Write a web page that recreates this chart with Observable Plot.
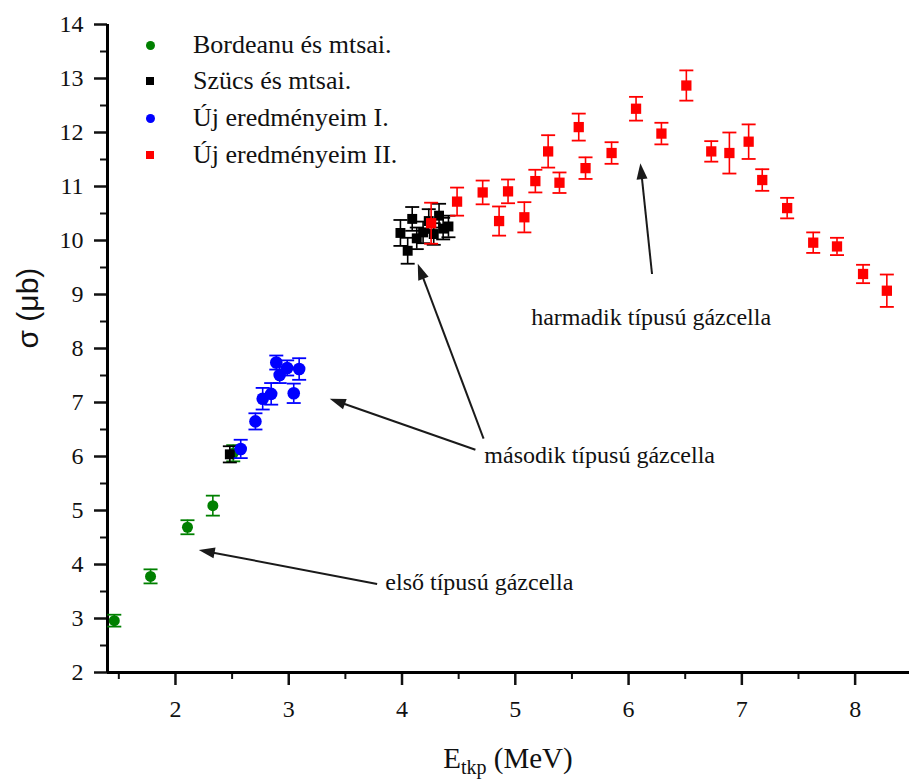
<!DOCTYPE html>
<html>
<head>
<meta charset="utf-8">
<script src="https://cdn.jsdelivr.net/npm/d3@7"></script>
<script src="https://cdn.jsdelivr.net/npm/@observablehq/plot@0.6"></script>
<style>
  body { margin: 0; background: #fff; }
  #wrap { position: relative; width: 909px; height: 782px; overflow: hidden; }
  .legend { position: absolute; left: 0; top: 0; font-family: "Liberation Serif", "Times New Roman", "DejaVu Serif", serif; font-size: 26px; color: #111; }
  .legend .row { position: absolute; left: 0; white-space: nowrap; height: 30px; line-height: 30px; }
  .legend .mk { position: absolute; }
  .legend .lb { position: absolute; left: 193px; top: 0; }
  .xtitle { position: absolute; left: 107px; width: 802px; top: 742px; text-align: center;
            font-family: "Liberation Serif", "Times New Roman", "DejaVu Serif", serif; font-size: 29px; color: #111; line-height: 32px; }
  .xtitle sub { font-size: 20px; vertical-align: -6px; line-height: 0; }
</style>
</head>
<body>
<div id="wrap"></div>
<script>
// ---- Data ----
const bordeanuE = [1.46, 1.78, 2.106, 2.33, 2.51];
const bordeanuS = [2.96, 3.78, 4.69, 5.09, 6.06];
const bordeanuD = [0.11, 0.13, 0.13, 0.185, 0.15];

const szucsE = [2.48, 3.986, 4.05, 4.09, 4.13, 4.186, 4.236, 4.28, 4.327, 4.363, 4.41];
const szucsS = [6.04, 10.14, 9.81, 10.40, 10.04, 10.15, 10.36, 10.12, 10.46, 10.22, 10.26];
const szucsD = [0.15, 0.24, 0.24, 0.22, 0.2, 0.2, 0.22, 0.2, 0.22, 0.2, 0.2];

const ujIE = [2.576, 2.706, 2.77, 2.845, 2.89, 2.92, 2.986, 3.044, 3.092];
const ujIS = [6.14, 6.65, 7.07, 7.16, 7.74, 7.51, 7.64, 7.17, 7.62];
const ujID = [0.17, 0.15, 0.2, 0.2, 0.13, 0.15, 0.14, 0.18, 0.2];

const ujIIE = [4.257, 4.486, 4.712, 4.857, 4.936, 5.08, 5.177, 5.29, 5.39, 5.56, 5.62, 5.85,
               6.066, 6.29, 6.51, 6.73, 6.89, 7.06, 7.18, 7.40, 7.63, 7.84, 8.07, 8.28];
const ujIIS = [10.32, 10.72, 10.89, 10.36, 10.91, 10.43, 11.10, 11.65, 11.07, 12.10, 11.34, 11.62,
               12.44, 11.98, 12.87, 11.65, 11.62, 11.83, 11.12, 10.60, 9.96, 9.89, 9.38, 9.07];
const ujIID = [0.38, 0.26, 0.22, 0.27, 0.22, 0.28, 0.21, 0.3, 0.19, 0.25, 0.2, 0.2,
               0.22, 0.2, 0.28, 0.19, 0.38, 0.32, 0.2, 0.19, 0.19, 0.16, 0.17, 0.3];

const seriesNames = ["Bordeanu és mtsai.", "Szücs és mtsai.", "Új eredményeim I.", "Új eredményeim II."];
const seriesColors = ["#008000", "#000000", "#0000ff", "#ff0000"];
const seriesSymbols = ["circle", "square", "circle", "square"];

const xMajorTicks = [2, 3, 4, 5, 6, 7, 8];
const xMinorTicks = [1.5, 2.5, 3.5, 4.5, 5.5, 6.5, 7.5];
const yMajorTicks = [2, 3, 4, 5, 6, 7, 8, 9, 10, 11, 12, 13, 14];
const yMinorTicks = [2.5, 3.5, 4.5, 5.5, 6.5, 7.5, 8.5, 9.5, 10.5, 11.5, 12.5, 13.5];

const annotLabels = ["első típusú gázcella", "második típusú gázcella", "harmadik típusú gázcella"];
const annotTextE = [3.853, 4.727, 5.14];
const annotTextS = [3.667, 6.02, 8.58];
// arrows: tail -> head (data coordinates)
const arrowTailE = [3.78, 4.648, 4.72, 6.207];
const arrowTailS = [3.64, 6.124, 6.33, 9.38];
const arrowHeadE = [2.206, 3.362, 4.139, 6.104];
const arrowHeadS = [4.27, 7.068, 9.57, 11.43];

// ---- Layout ----
const W = 909, H = 782, mL = 107, mR = 0, mT = 24, mB = 110;
const xDomain = [1.4, 8.48], yDomain = [2, 14];
const SERIF = "'Liberation Serif', 'Times New Roman', 'DejaVu Serif', serif";

const toRows = (E, S, D) => E.map((e, i) => ({E: e, S: S[i], D: D[i]}));
const series = [
  {rows: toRows(bordeanuE, bordeanuS, bordeanuD), r: 5.5},
  {rows: toRows(szucsE, szucsS, szucsD), r: 5.6},
  {rows: toRows(ujIE, ujIS, ujID), r: 6.3},
  {rows: toRows(ujIIE, ujIIS, ujIID), r: 5.8}
].map((s, i) => ({...s, color: seriesColors[i], symbol: seriesSymbols[i]}));

const capSymbol = {draw(ctx, size) { const r = Math.sqrt(size / Math.PI); ctx.moveTo(-r, 0); ctx.lineTo(r, 0); }};
const headSymbol = {draw(ctx, size) { ctx.moveTo(0, 0); ctx.lineTo(-5.5, 16); ctx.lineTo(5.5, 16); ctx.closePath(); }};

const xs = d3.scaleLinear(xDomain, [mL, W - mR]);
const ys = d3.scaleLinear(yDomain, [H - mB, mT]);
const arrows = arrowTailE.map((_, i) => {
  const tx = xs(arrowTailE[i]), ty = ys(arrowTailS[i]), hx = xs(arrowHeadE[i]), hy = ys(arrowHeadS[i]);
  const dx = hx - tx, dy = hy - ty, len = Math.hypot(dx, dy);
  const bx = hx - dx / len * 12, by = hy - dy / len * 12;
  return {tE: arrowTailE[i], tS: arrowTailS[i], hE: arrowHeadE[i], hS: arrowHeadS[i],
          bE: xs.invert(bx), bS: ys.invert(by), angle: Math.atan2(dx, -dy) * 180 / Math.PI};
});
const annots = annotLabels.map((t, i) => ({t, E: annotTextE[i], S: annotTextS[i]}));

const marks = [
  Plot.axisX({ticks: xMajorTicks, tickSize: 13, strokeWidth: 2.5, tickPadding: 14, label: null, tickFormat: d => String(d), fontFamily: SERIF}),
  Plot.axisX({ticks: xMinorTicks, tickSize: 7, strokeWidth: 2, tickFormat: () => "", label: null}),
  Plot.axisY({ticks: yMajorTicks, tickSize: 13, strokeWidth: 2.5, tickPadding: 11, label: null, tickFormat: d => String(d), fontFamily: SERIF}),
  Plot.axisY({ticks: yMinorTicks, tickSize: 7, strokeWidth: 2, tickFormat: () => "", label: null}),
  Plot.ruleY([yDomain[0]], {strokeWidth: 3, stroke: "#000"}),
  Plot.ruleX([xDomain[0]], {strokeWidth: 3, stroke: "#000", y1: yDomain[0], y2: yDomain[1]}),
  Plot.text(["σ (μb)"], {frameAnchor: "left", dx: -79, rotate: -90, fontFamily: "'Liberation Sans', Arial, sans-serif", fontSize: 30, fill: "#111"})
];

for (const s of series) {
  marks.push(
    Plot.ruleX(s.rows, {x: "E", y1: d => d.S - d.D, y2: d => d.S + d.D, stroke: s.color, strokeWidth: 1.6}),
    Plot.dot(s.rows, {x: "E", y: d => d.S + d.D, symbol: capSymbol, r: 7, stroke: s.color, fill: "none", strokeWidth: 1.8}),
    Plot.dot(s.rows, {x: "E", y: d => d.S - d.D, symbol: capSymbol, r: 7, stroke: s.color, fill: "none", strokeWidth: 1.8}),
    Plot.dot(s.rows, {x: "E", y: "S", symbol: s.symbol, r: s.r, fill: s.color, stroke: null})
  );
}

marks.push(
  Plot.link(arrows, {x1: "tE", y1: "tS", x2: "bE", y2: "bS", stroke: "#1a1a1a", strokeWidth: 2}),
  Plot.dot(arrows, {x: "hE", y: "hS", symbol: headSymbol, rotate: "angle", fill: "#1a1a1a", stroke: null, r: 6}),
  Plot.text(annots, {x: "E", y: "S", text: "t", textAnchor: "start", lineAnchor: "middle",
                     fontFamily: SERIF, fontSize: 24, fill: "#111"})
);

const chart = Plot.plot({
  width: W, height: H,
  marginLeft: mL, marginRight: mR, marginTop: mT, marginBottom: mB,
  x: {domain: xDomain},
  y: {domain: yDomain},
  style: {fontFamily: SERIF, fontSize: "24px", color: "#111", background: "#fff", overflow: "visible"},
  marks
});

const wrap = document.getElementById("wrap");
wrap.appendChild(chart);

// legend (HTML overlay)
const legend = document.createElement("div");
legend.className = "legend";
const rowTops = [30, 66, 103, 140];
seriesNames.forEach((name, i) => {
  const row = document.createElement("div");
  row.className = "row";
  row.style.top = rowTops[i] + "px";
  const mk = document.createElement("span");
  mk.className = "mk";
  const sz = seriesSymbols[i] === "circle" ? 9 : 8;
  mk.style.width = sz + "px"; mk.style.height = sz + "px";
  mk.style.left = (150 - sz / 2) + "px"; mk.style.top = (15 - sz / 2) + "px";
  mk.style.background = seriesColors[i];
  mk.style.borderRadius = seriesSymbols[i] === "circle" ? "50%" : "0";
  const lb = document.createElement("span");
  lb.className = "lb";
  lb.textContent = name;
  row.appendChild(mk); row.appendChild(lb);
  legend.appendChild(row);
});
wrap.appendChild(legend);

// x-axis title with subscript
const xt = document.createElement("div");
xt.className = "xtitle";
xt.innerHTML = "E<sub>tkp</sub> (MeV)";
wrap.appendChild(xt);
</script>
</body>
</html>
